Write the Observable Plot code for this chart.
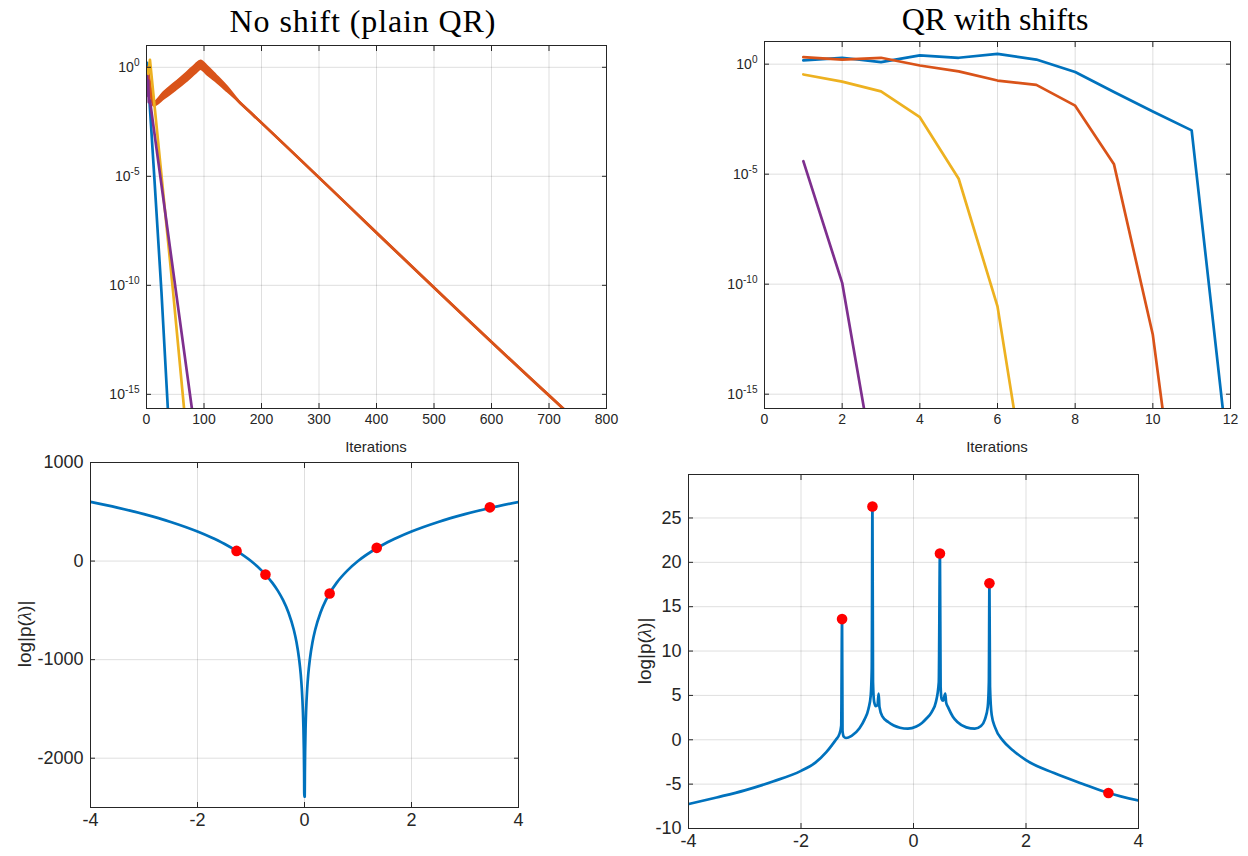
<!DOCTYPE html>
<html><head><meta charset="utf-8">
<script src="https://cdn.jsdelivr.net/npm/d3@7"></script>
<script src="https://cdn.jsdelivr.net/npm/@observablehq/plot@0.6"></script>
<style>
body{margin:0;background:#fff;}
#page{position:relative;width:1248px;height:856px;overflow:hidden;font-family:"Liberation Sans",Arial,sans-serif;color:#262626;}
#page svg{position:absolute;}
.lab{position:absolute;white-space:nowrap;line-height:1;}
.title{font-family:"Liberation Serif","DejaVu Serif",serif;font-size:32px;color:#000;transform:translate(-50%,0);}
.xl{font-size:15px;transform:translate(-50%,-50%);}
.yl{font-size:19px;transform:translate(-50%,-50%) rotate(-90deg);}
</style></head>
<body><div id="page"></div>
<script>
// ---------- Top-left: no shift (plain QR) ----------
const plainBlueIter = [1, 13, 26, 42];
const plainBlueVal = [1.6, 1.6e-5, 5e-11, 1e-18];
const plainOrangeIter = [1, 4, 8, 12, 30, 50, 70, 85, 94, 105, 120, 140, 160, 185, 725, 760];
const plainOrangeLow = [0.71, 0.25, 0.05, 0.0178, 0.038, 0.095, 0.25, 0.56, 0.87, 0.5, 0.24, 0.083, 0.028, 0.0067, 2.2e-16, 3.2e-17];
const plainOrangeHigh = [1.0, 0.4, 0.079, 0.025, 0.071, 0.2, 0.56, 1.32, 2.0, 1.12, 0.45, 0.126, 0.028, 0.0067, 2.2e-16, 3.2e-17];
const plainYellowIter = [1, 3, 6, 46, 72];
const plainYellowVal = [0.8, 0.5, 2.2, 5.9e-11, 3e-18];
const plainPurpleIter = [1, 2, 3, 4, 6, 24, 49, 79, 86];
const plainPurpleVal = [0.4, 0.05, 0.25, 0.025, 0.03, 1e-5, 1.4e-10, 2.2e-16, 1.5e-17];
const plainXTicks = [0, 100, 200, 300, 400, 500, 600, 700, 800];

// ---------- Top-right: QR with shifts ----------
const shiftBlueIter = [1, 2, 3, 4, 5, 6, 7, 8, 9, 10, 11, 12];
const shiftBlueVal = [1.48, 1.95, 1.23, 2.5, 1.95, 2.95, 1.62, 0.44, 0.054, 0.0071, 9.8e-4, 1.6e-19];
const shiftOrangeIter = [1, 2, 3, 4, 5, 6, 7, 8, 9, 10, 11];
const shiftOrangeVal = [2.1, 1.6, 1.95, 0.87, 0.47, 0.18, 0.115, 0.013, 2.8e-5, 5e-13, 2e-26];
const shiftYellowIter = [1, 2, 3, 4, 5, 6, 7];
const shiftYellowVal = [0.34, 0.16, 0.058, 0.0039, 6.2e-6, 9.8e-12, 8.7e-23];
const shiftPurpleIter = [1, 2, 3];
const shiftPurpleVal = [3.9e-5, 1.15e-10, 8e-21];
const shiftXTicks = [0, 2, 4, 6, 8, 10, 12];

const logYTicks = [1, 1e-5, 1e-10, 1e-15];

// ---------- Bottom-left ----------
const lambdaL = [-4,-3.5,-3,-2.5,-2,-1.75,-1.5,-1.27,-1,-0.8,-0.6,-0.5,-0.4,-0.3,-0.2,-0.15,-0.1,-0.07,-0.05,-0.03,-0.02,-0.012,-0.007,-0.004,0.004,0.007,0.012,0.02,0.03,0.05,0.07,0.1,0.15,0.2,0.3,0.4,0.47,0.6,0.8,1,1.35,1.5,1.75,2,2.5,3,3.465,4];
const logpL = [600,542,476,397,300,242,176,103,0,-97,-221,-300,-397,-521,-697,-821,-997,-1150,-1297,-1518,-1694,-1915,-2148,-2390,-2390,-2148,-1915,-1694,-1518,-1297,-1150,-997,-821,-697,-521,-397,-327,-221,-97,0,130,176,242,300,397,476,538,600];
const eigenvalues = [-1.27, -0.73, 0.47, 1.35, 3.465];
const eigLogpL = [103, -137, -329, 134, 545];
const bottomXTicks = [-4, -2, 0, 2, 4];
const leftYTicks = [-2000, -1000, 0, 1000];

// ---------- Bottom-right ----------
const lambdaR = [-4,-3.5,-3,-2.5,-2,-1.75,-1.55,-1.45,-1.38,-1.32,-1.285,-1.27,-1.262,-1.24,-1.2,-1.1,-0.96,-0.87,-0.8,-0.76,-0.742,-0.73,-0.72,-0.7,-0.67,-0.64,-0.62,-0.605,-0.55,-0.45,-0.35,-0.24,-0.1,0.05,0.15,0.23,0.32,0.4,0.45,0.47,0.482,0.5,0.525,0.565,0.58,0.62,0.7,0.78,0.94,1.09,1.2,1.27,1.32,1.34,1.35,1.36,1.39,1.45,1.59,1.77,2,2.5,3,3.465,4];
const logpR = [-7.25,-6.5,-5.7,-4.7,-3.5,-2.6,-1.4,-0.6,0,0.6,1.6,13.6,1.0,0.35,0.2,0.45,1.3,2.3,3.5,5.0,8.0,26.3,6.5,4.3,3.8,3.9,5.2,3.7,2.6,2.0,1.6,1.36,1.25,1.5,1.9,2.4,3.1,4.3,6.5,21.0,6.0,4.6,4.4,5.2,4.2,3.6,2.6,2.0,1.4,1.25,1.55,2.3,3.7,6.5,17.65,6.0,2.8,1.4,-0.1,-1.2,-2.3,-3.75,-4.95,-6.0,-6.85];
const eigLogpR = [13.6, 26.3, 21.0, 17.65, -6.0];
const rightYTicks = [-10, -5, 0, 5, 10, 15, 20, 25];

// ---------- styling ----------
const COL = {blue: "#0072BD", orange: "#D95319", yellow: "#EDB120", purple: "#7E2F8E", red: "#FF0000"};
const INK = "#262626";
const page = document.getElementById("page");

const zip = (xs, ys) => xs.map((x, i) => ({x, y: ys[i]}));
const plainFmt = d => String(d);

function frameMarks(xTicks, yTicks, fs, yFmt) {
  return [
    Plot.axisX(xTicks, {anchor: "bottom", tickSize: 0, tickPadding: 6, fontSize: fs, color: INK, label: null, tickFormat: plainFmt}),
    Plot.axisX(xTicks, {anchor: "bottom", tickSize: -5, tickFormat: () => "", color: INK, label: null}),
    Plot.axisX(xTicks, {anchor: "top", tickSize: -5, tickFormat: () => "", color: INK, label: null}),
    Plot.axisY(yTicks, {anchor: "left", tickSize: 0, tickPadding: 7, fontSize: fs, color: INK, label: null, tickFormat: yFmt}),
    Plot.axisY(yTicks, {anchor: "left", tickSize: -5, tickFormat: () => "", color: INK, label: null}),
    Plot.axisY(yTicks, {anchor: "right", tickSize: -5, tickFormat: () => "", color: INK, label: null}),
    Plot.frame({stroke: INK, strokeWidth: 1})
  ];
}
function grids(xTicks, yTicks) {
  return [
    Plot.gridX(xTicks, {stroke: INK, strokeOpacity: 0.15, strokeWidth: 1}),
    Plot.gridY(yTicks, {stroke: INK, strokeOpacity: 0.15, strokeWidth: 1})
  ];
}
function supLabels(svg) {
  const ns = "http://www.w3.org/2000/svg";
  svg.querySelectorAll('[aria-label="y-axis tick label"] text').forEach(t => {
    const s = t.textContent;
    if (!s.includes("^")) return;
    const [b, e] = s.split("^");
    t.textContent = "";
    const t1 = document.createElementNS(ns, "tspan"); t1.textContent = b;
    const t2 = document.createElementNS(ns, "tspan"); t2.textContent = e;
    t2.setAttribute("dy", "-0.55em"); t2.setAttribute("font-size", "0.72em");
    t.append(t1, t2);
  });
}
function place(svg, left, top) {
  svg.style.left = left + "px"; svg.style.top = top + "px";
  page.appendChild(svg);
}
function label(cls, text, x, y, html, extra) {
  const d = document.createElement("div");
  d.className = "lab " + cls;
  if (html) d.innerHTML = text; else d.textContent = text;
  d.style.left = x + "px"; d.style.top = y + "px";
  if (extra) Object.assign(d.style, extra);
  page.appendChild(d);
}
const logFmt = d => "10^" + Math.round(Math.log10(d));
const baseStyle = {fontFamily: '"Liberation Sans", Arial, sans-serif', background: "transparent", overflow: "visible", color: INK};
const LW = 2.7;

// ---------- chart 1 ----------
{
  const orangeBand = plainOrangeIter.map((x, i) => ({x, lo: plainOrangeLow[i], hi: plainOrangeHigh[i]}));
  const svg = Plot.plot({
    width: 624, height: 460,
    marginLeft: 146, marginRight: 18, marginTop: 45, marginBottom: 52,
    style: {...baseStyle, fontSize: "14px"},
    x: {domain: [0, 800]},
    y: {type: "log", domain: [Math.pow(10, -15.65), 10]},
    marks: [
      ...grids(plainXTicks, logYTicks),
      Plot.line(zip(plainBlueIter, plainBlueVal), {x: "x", y: "y", stroke: COL.blue, strokeWidth: LW, clip: true}),
      Plot.areaY(orangeBand, {x: "x", y1: "lo", y2: "hi", fill: COL.orange, curve: "monotone-x", clip: true}),
      Plot.line(orangeBand, {x: "x", y: "lo", stroke: COL.orange, strokeWidth: LW, curve: "monotone-x", clip: true}),
      Plot.line(orangeBand, {x: "x", y: "hi", stroke: COL.orange, strokeWidth: LW, curve: "monotone-x", clip: true}),
      Plot.line(zip(plainYellowIter, plainYellowVal), {x: "x", y: "y", stroke: COL.yellow, strokeWidth: LW, clip: true}),
      Plot.line(zip(plainPurpleIter, plainPurpleVal), {x: "x", y: "y", stroke: COL.purple, strokeWidth: LW, clip: true}),
      ...frameMarks(plainXTicks, logYTicks, 14, logFmt)
    ]
  });
  supLabels(svg);
  place(svg, 0, 0);
}
// ---------- chart 2 ----------
{
  const svg = Plot.plot({
    width: 624, height: 460,
    marginLeft: 140, marginRight: 18, marginTop: 41, marginBottom: 52,
    style: {...baseStyle, fontSize: "14px"},
    x: {domain: [0, 12]},
    y: {type: "log", domain: [Math.pow(10, -15.65), Math.pow(10, 1.03)]},
    marks: [
      ...grids(shiftXTicks, logYTicks),
      Plot.line(zip(shiftBlueIter, shiftBlueVal), {x: "x", y: "y", stroke: COL.blue, strokeWidth: LW, clip: true}),
      Plot.line(zip(shiftOrangeIter, shiftOrangeVal), {x: "x", y: "y", stroke: COL.orange, strokeWidth: LW, clip: true}),
      Plot.line(zip(shiftYellowIter, shiftYellowVal), {x: "x", y: "y", stroke: COL.yellow, strokeWidth: LW, clip: true}),
      Plot.line(zip(shiftPurpleIter, shiftPurpleVal), {x: "x", y: "y", stroke: COL.purple, strokeWidth: LW, clip: true}),
      ...frameMarks(shiftXTicks, logYTicks, 14, logFmt)
    ]
  });
  supLabels(svg);
  place(svg, 624, 0);
}
// ---------- chart 3 ----------
{
  const svg = Plot.plot({
    width: 624, height: 416,
    marginLeft: 90, marginRight: 106, marginTop: 22, marginBottom: 49,
    style: {...baseStyle, fontSize: "18px"},
    x: {domain: [-4, 4]},
    y: {domain: [-2500, 1000]},
    marks: [
      ...grids(bottomXTicks, leftYTicks),
      Plot.line(zip(lambdaL, logpL), {x: "x", y: "y", stroke: COL.blue, strokeWidth: LW, curve: "monotone-x", clip: true}),
      Plot.dot(zip(eigenvalues, eigLogpL), {x: "x", y: "y", r: 5.3, fill: COL.red, stroke: null}),
      ...frameMarks(bottomXTicks, leftYTicks, 18, plainFmt)
    ]
  });
  place(svg, 0, 440);
}
// ---------- chart 4 ----------
{
  const svg = Plot.plot({
    width: 624, height: 416,
    marginLeft: 64, marginRight: 110, marginTop: 34, marginBottom: 28,
    style: {...baseStyle, fontSize: "18px"},
    x: {domain: [-4, 4]},
    y: {domain: [-10, 29.9]},
    marks: [
      ...grids(bottomXTicks, rightYTicks),
      Plot.line(zip(lambdaR, logpR), {x: "x", y: "y", stroke: COL.blue, strokeWidth: LW, curve: "monotone-x", clip: true}),
      Plot.dot(zip(eigenvalues, eigLogpR), {x: "x", y: "y", r: 5.3, fill: COL.red, stroke: null}),
      ...frameMarks(bottomXTicks, rightYTicks, 18, plainFmt)
    ]
  });
  place(svg, 624, 440);
}
// ---------- text ----------
label("title", "No shift (plain QR)", 363, 5, false, {letterSpacing: "0.9px"});
label("title", "QR with shifts", 995, 3, false);
label("xl", "Iterations", 376, 446);
label("xl", "Iterations", 997, 446);
label("yl", 'log|p(<span style="font-family:\'Liberation Serif\',serif;font-style:italic">λ</span>)|', 24, 634, true);
label("yl", 'log|p(<span style="font-family:\'Liberation Serif\',serif;font-style:italic">λ</span>)|', 644, 651, true);
</script></body></html>
